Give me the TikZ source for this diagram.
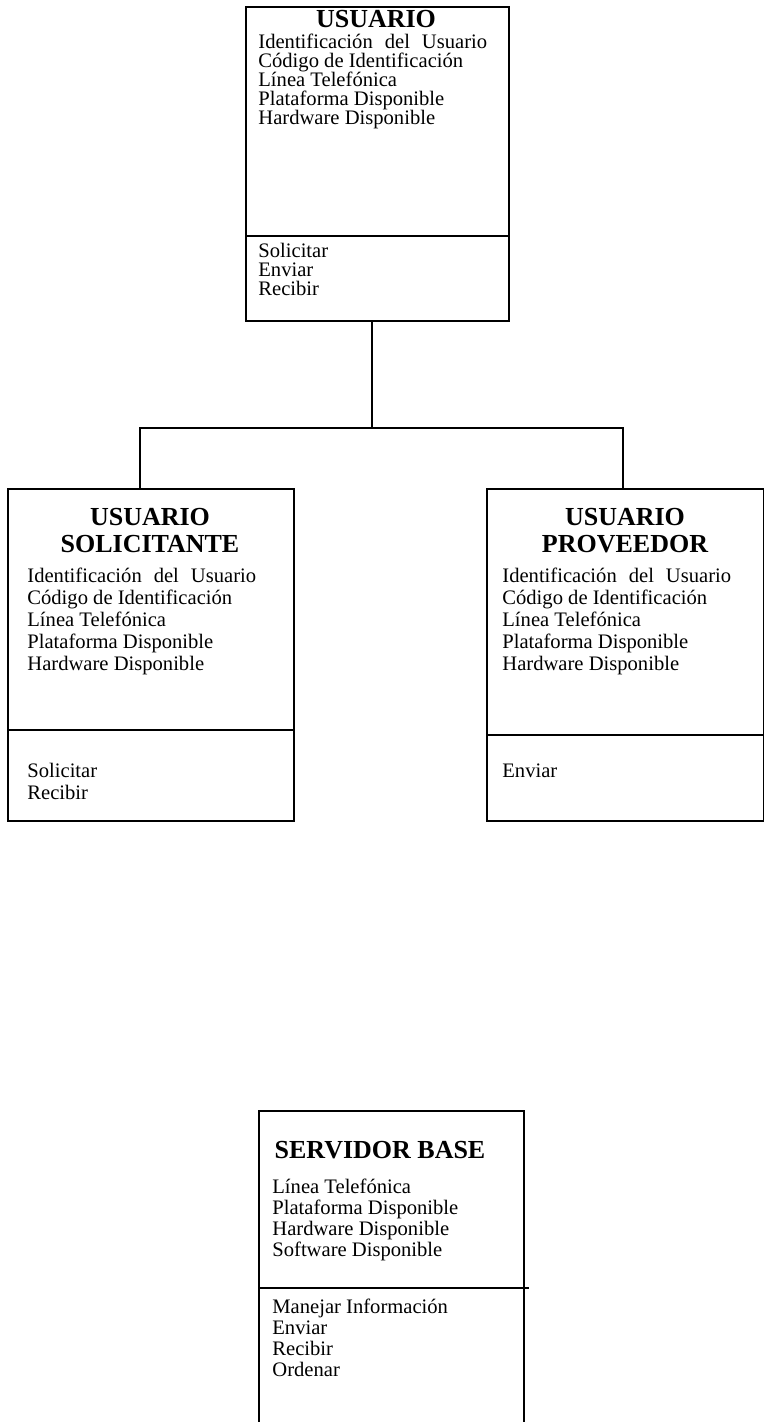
\documentclass[tikz,border=0pt]{standalone}
\usepackage{fontspec}
\setmainfont{Liberation Serif}
\begin{document}
\begin{tikzpicture}[x=0.5pt,y=-0.5pt,
  classbox/.style={draw=black, line width=1pt, inner sep=0pt, anchor=north west},
  rule/.style={draw=black, line width=1pt},
  link/.style={draw=black, line width=1pt},
  ctitle/.style={font=\bfseries\fontsize{13}{15}\selectfont, inner sep=0pt, anchor=base},
  attr/.style={font=\fontsize{10.3}{12}\selectfont, inner sep=0pt, anchor=base west}]
\useasboundingbox (0,0) rectangle (764,1422);

% ---- USUARIO ----
\node[classbox, minimum width=131.5pt, minimum height=157pt] (usr) at (245,6) {};
\draw[rule] (usr.west |- 0,236) -- (usr.east |- 0,236);
\node[ctitle] (usr-t) at (376,28) {USUARIO};
\foreach \t [count=\i] in {Identificación\hspace{6pt}del\hspace{6pt}Usuario, Código de Identificación, Línea Telefónica, Plataforma Disponible, Hardware Disponible}
  \node[attr] (usr-a\i) at (258,{49+(\i-1)*19}) {\t};
\foreach \t [count=\i] in {Solicitar, Enviar, Recibir}
  \node[attr] (usr-o\i) at (258,{258+(\i-1)*19}) {\t};

% ---- USUARIO SOLICITANTE ----
\node[classbox, minimum width=143pt, minimum height=166pt] (sol) at (7,488) {};
\draw[rule] (sol.west |- 0,730) -- (sol.east |- 0,730);
\node[ctitle] (sol-t1) at (150,525) {USUARIO};
\node[ctitle] (sol-t2) at (150,552) {SOLICITANTE};
\foreach \t [count=\i] in {Identificación\hspace{6pt}del\hspace{6pt}Usuario, Código de Identificación, Línea Telefónica, Plataforma Disponible, Hardware Disponible}
  \node[attr] (sol-a\i) at (27,{582+(\i-1)*22}) {\t};
\foreach \t [count=\i] in {Solicitar, Recibir}
  \node[attr] (sol-o\i) at (27,{777+(\i-1)*22}) {\t};

% ---- USUARIO PROVEEDOR ----
\node[classbox, minimum width=138.5pt, minimum height=166pt] (prv) at (486,488) {};
\draw[rule] (prv.west |- 0,735) -- (prv.east |- 0,735);
\node[ctitle] (prv-t1) at (625,525) {USUARIO};
\node[ctitle] (prv-t2) at (625,552) {PROVEEDOR};
\foreach \t [count=\i] in {Identificación\hspace{6pt}del\hspace{6pt}Usuario, Código de Identificación, Línea Telefónica, Plataforma Disponible, Hardware Disponible}
  \node[attr] (prv-a\i) at (502,{582+(\i-1)*22}) {\t};
\node[attr] (prv-o1) at (502,777) {Enviar};

% ---- SERVIDOR BASE ----
\node[classbox, minimum width=132.5pt, minimum height=156pt] (srv) at (258,1110) {};
\draw[rule] (srv.west |- 0,1288) -- ([xshift=2pt]srv.east |- 0,1288);
\node[ctitle] (srv-t) at (380,1158) {SERVIDOR BASE};
\foreach \t [count=\i] in {Línea Telefónica, Plataforma Disponible, Hardware Disponible, Software Disponible}
  \node[attr] (srv-a\i) at (272,{1193+(\i-1)*21}) {\t};
\foreach \t [count=\i] in {Manejar Información, Enviar, Recibir, Ordenar}
  \node[attr] (srv-o\i) at (272,{1313+(\i-1)*21}) {\t};

% ---- inheritance connector ----
\coordinate (hub) at (372,428);
\coordinate (hubl) at (140,428);
\coordinate (hubr) at (623,428);
\draw[link] (hub |- usr.south) -- (hub);
\draw[link] (hubl |- sol.north) -- (hubl) -- (hubr) -- (hubr |- prv.north);
\end{tikzpicture}
\end{document}
